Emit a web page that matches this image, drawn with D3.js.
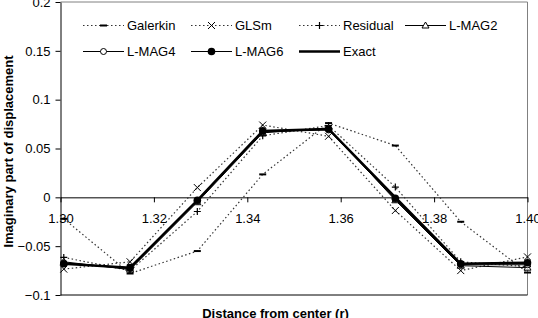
<!DOCTYPE html>
<html>
<head>
<meta charset="utf-8">
<script src="https://cdn.jsdelivr.net/npm/d3@7"></script>
<style>
  body { margin: 0; background: #fff; }
  svg { font-family: "Liberation Sans", Arial, sans-serif; }
</style>
</head>
<body>
<div id="chart"></div>
<script>
// values
const radius   = [1.3007, 1.3149, 1.3293, 1.3433, 1.3574, 1.3717, 1.3857, 1.4000];
const galerkin = [-0.022, -0.078, -0.055, 0.0235, 0.076, 0.053, -0.025, -0.077];
const glsm     = [-0.0735, -0.066, 0.010, 0.074, 0.0625, -0.0135, -0.075, -0.061];
const residual = [-0.0615, -0.075, -0.0145, 0.063, 0.0735, 0.0105, -0.066, -0.071];
const lmag2    = [-0.066, -0.074, -0.005, 0.066, 0.071, -0.003, -0.070, -0.072];
const lmag4    = [-0.067, -0.073, -0.004, 0.067, 0.069, -0.002, -0.069, -0.069];
const lmag6    = [-0.068, -0.072, -0.003, 0.068, 0.070, -0.001, -0.068, -0.067];
const exact    = [-0.068, -0.072, -0.003, 0.068, 0.070, 0.000, -0.068, -0.067];
const yTicks = [-0.1, -0.05, 0, 0.05, 0.1, 0.15, 0.2];
const xTicks = [1.30, 1.32, 1.34, 1.36, 1.38, 1.40];

const series = [
    { name: "Galerkin", values: galerkin, marker: "dash",   dash: "1.5,2.5", width: 1.2, color: "#333" },
    { name: "GLSm",     values: glsm,     marker: "x",      dash: "1.5,2.5", width: 1.2, color: "#333" },
    { name: "Residual", values: residual, marker: "plus",   dash: "1.5,2.5", width: 1.2, color: "#333" },
    { name: "L-MAG2",   values: lmag2,    marker: "tri",    dash: null, width: 1, color: "#000" },
    { name: "L-MAG4",   values: lmag4,    marker: "ocircle",dash: null, width: 1, color: "#000" },
    { name: "L-MAG6",   values: lmag6,    marker: "circle", dash: null, width: 1, color: "#000" },
    { name: "Exact",    values: exact,    marker: null,     dash: null, width: 2.4, color: "#000" }
];

const width = 538, height = 318;
const plot = { left: 60.5, right: 527.5, top: 2, bottom: 295 };

const svg = d3.select("#chart").append("svg")
    .attr("width", width)
    .attr("height", height);

const x = d3.scaleLinear().domain([1.30, 1.40]).range([plot.left, plot.right]);
const y = d3.scaleLinear().domain([-0.1, 0.2]).range([plot.bottom, plot.top]);

// plot frame
svg.append("line").attr("x1", plot.left).attr("x2", plot.right).attr("y1", plot.top).attr("y2", plot.top)
    .attr("stroke", "#808080");
svg.append("line").attr("x1", plot.right).attr("x2", plot.right).attr("y1", plot.top).attr("y2", plot.bottom)
    .attr("stroke", "#808080");
svg.append("line").attr("x1", plot.left).attr("x2", plot.right).attr("y1", plot.bottom).attr("y2", plot.bottom)
    .attr("stroke", "#000");

// y axis
const yAxis = svg.append("g")
    .attr("transform", `translate(${plot.left},0)`)
    .call(d3.axisLeft(y).tickValues(yTicks).tickSize(5).tickPadding(5).tickSizeOuter(0)
        .tickFormat(d => d3.format("")(+d.toFixed(2))));
yAxis.selectAll("text").style("font-size", "13px").attr("fill", "#000");
yAxis.select(".domain").attr("stroke", "#000");

// x axis sits on the zero line
const xAxis = svg.append("g")
    .attr("transform", `translate(0,${y(0)})`)
    .call(d3.axisBottom(x).tickValues(xTicks).tickSize(5).tickPadding(11).tickSizeOuter(0)
        .tickFormat(d3.format(".2f")));
xAxis.selectAll("text").style("font-size", "13px").attr("fill", "#000");
xAxis.select(".domain").attr("stroke", "#000");

// marker drawing
function drawMarker(g, type, cx, cy) {
    if (type === "dash") {
        g.append("line").attr("x1", cx - 3.5).attr("x2", cx + 3.5).attr("y1", cy).attr("y2", cy)
            .attr("stroke", "#000").attr("stroke-width", 2);
    } else if (type === "x") {
        g.append("path").attr("d", `M${cx - 3.5},${cy - 3.5}L${cx + 3.5},${cy + 3.5}M${cx - 3.5},${cy + 3.5}L${cx + 3.5},${cy - 3.5}`)
            .attr("stroke", "#000").attr("stroke-width", 1);
    } else if (type === "plus") {
        g.append("path").attr("d", `M${cx - 3.5},${cy}L${cx + 3.5},${cy}M${cx},${cy - 3.5}L${cx},${cy + 3.5}`)
            .attr("stroke", "#000").attr("stroke-width", 1.2);
    } else if (type === "tri") {
        g.append("path").attr("d", `M${cx},${cy - 3.5}L${cx + 3.5},${cy + 2.5}L${cx - 3.5},${cy + 2.5}Z`)
            .attr("stroke", "#000").attr("fill", "#fff").attr("stroke-width", 1);
    } else if (type === "ocircle") {
        g.append("circle").attr("cx", cx).attr("cy", cy).attr("r", 3)
            .attr("stroke", "#000").attr("fill", "#fff").attr("stroke-width", 1);
    } else if (type === "circle") {
        g.append("circle").attr("cx", cx).attr("cy", cy).attr("r", 3.8).attr("fill", "#000");
    }
}

const line = d3.line().x(d => x(d[0])).y(d => y(d[1]));

series.forEach(s => {
    const pts = radius.map((r, i) => [r, s.values[i]]);
    svg.append("path")
        .datum(pts)
        .attr("d", line)
        .attr("fill", "none")
        .attr("stroke", s.color)
        .attr("stroke-width", s.width)
        .attr("stroke-dasharray", s.dash);
    const mg = svg.append("g");
    pts.forEach(p => drawMarker(mg, s.marker, x(p[0]), y(p[1])));
});

// legend, two rows
const legend = svg.append("g");
series.forEach((s, i) => {
    const row = i < 4 ? 0 : 1;
    const col = i < 4 ? i : i - 4;
    const lx = 83 + col * 108 + (col === 3 ? -2 : 0);
    const ly = row === 0 ? 25.5 : 51.5;
    legend.append("line")
        .attr("x1", lx).attr("x2", lx + 41).attr("y1", ly).attr("y2", ly)
        .attr("stroke", s.color)
        .attr("stroke-width", s.width)
        .attr("stroke-dasharray", s.dash);
    drawMarker(legend, s.marker, lx + 20.5, ly);
    legend.append("text")
        .attr("x", lx + 44).attr("y", ly + 4.7)
        .style("font-size", "13px")
        .text(s.name);
});

// axis titles
svg.append("text")
    .attr("transform", `translate(13,${(plot.top + plot.bottom) / 2 + 3}) rotate(-90)`)
    .attr("text-anchor", "middle")
    .style("font-size", "13px")
    .style("font-weight", "bold")
    .text("Imaginary part of displacement");

svg.append("text")
    .attr("x", 275.5).attr("y", 317.5)
    .attr("text-anchor", "middle")
    .style("font-size", "13px")
    .style("font-weight", "bold")
    .text("Distance from center (r)");
</script>
</body>
</html>
